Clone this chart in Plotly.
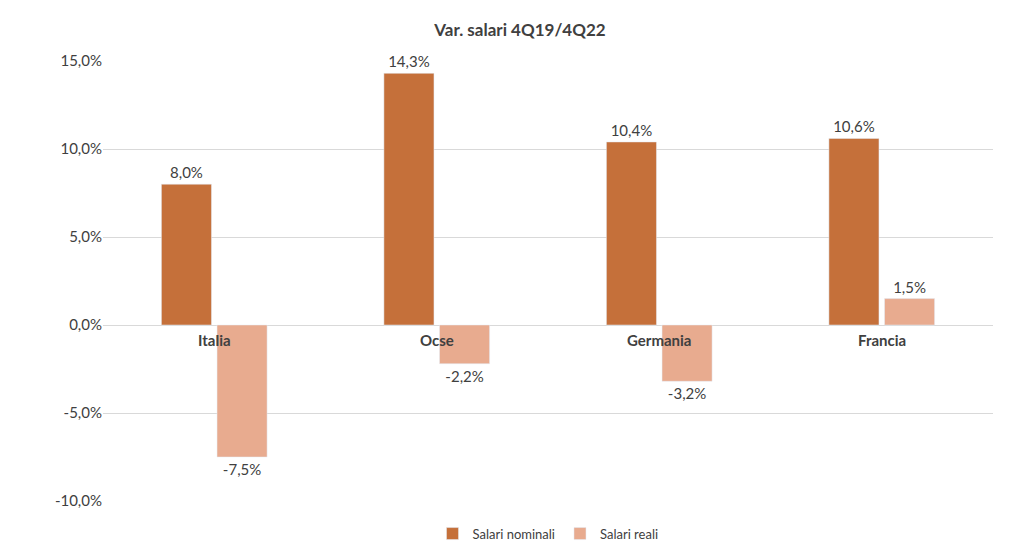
import plotly.graph_objects as go

categories = ["Italia", "Ocse", "Germania", "Francia"]
nominali = [8.0, 14.3, 10.4, 10.6]
reali = [-7.5, -2.2, -3.2, 1.5]
yticks = [-10, -5, 0, 5, 10, 15]

def fmt(v):
    return f"{v:.1f}%".replace(".", ",")

fig = go.Figure()
fig.add_bar(name="Salari nominali", x=categories, y=nominali, marker_color="#C5703A",
            text=[fmt(v) for v in nominali], textposition="outside", cliponaxis=False)
fig.add_bar(name="Salari reali", x=categories, y=reali, marker_color="#E8AB8F",
            text=[fmt(v) for v in reali], textposition="outside", cliponaxis=False)
for c in categories:
    fig.add_annotation(x=c, y=0, text=f"<b>{c}</b>", showarrow=False, yanchor="top", yshift=-4,
                       font=dict(size=15, color="#404040"))
fig.update_traces(textfont=dict(size=15, color="#404040"))
fig.update_layout(
    width=1024, height=553, barmode="group", bargap=0.5, bargroupgap=0.1,
    paper_bgcolor="white", plot_bgcolor="white",
    font=dict(family="Lato", color="#404040", size=15),
    title=dict(text="<b>Var. salari 4Q19/4Q22</b>", x=0.5, y=0.97, font=dict(size=17)),
    margin=dict(l=95, r=39, t=53, b=51),
    xaxis=dict(showticklabels=False, showline=False),
    yaxis=dict(range=[-10, 15], tickvals=yticks, ticktext=[fmt(v) for v in yticks],
               gridcolor="#D9D9D9", zeroline=True, zerolinecolor="#D9D9D9", zerolinewidth=1,
               ticks="", ticklen=8, tickcolor="white"),
    legend=dict(orientation="h", x=0.5, xanchor="center", y=-0.04, yanchor="top",
                font=dict(size=13)),
)
fig.write_html("out.html")
